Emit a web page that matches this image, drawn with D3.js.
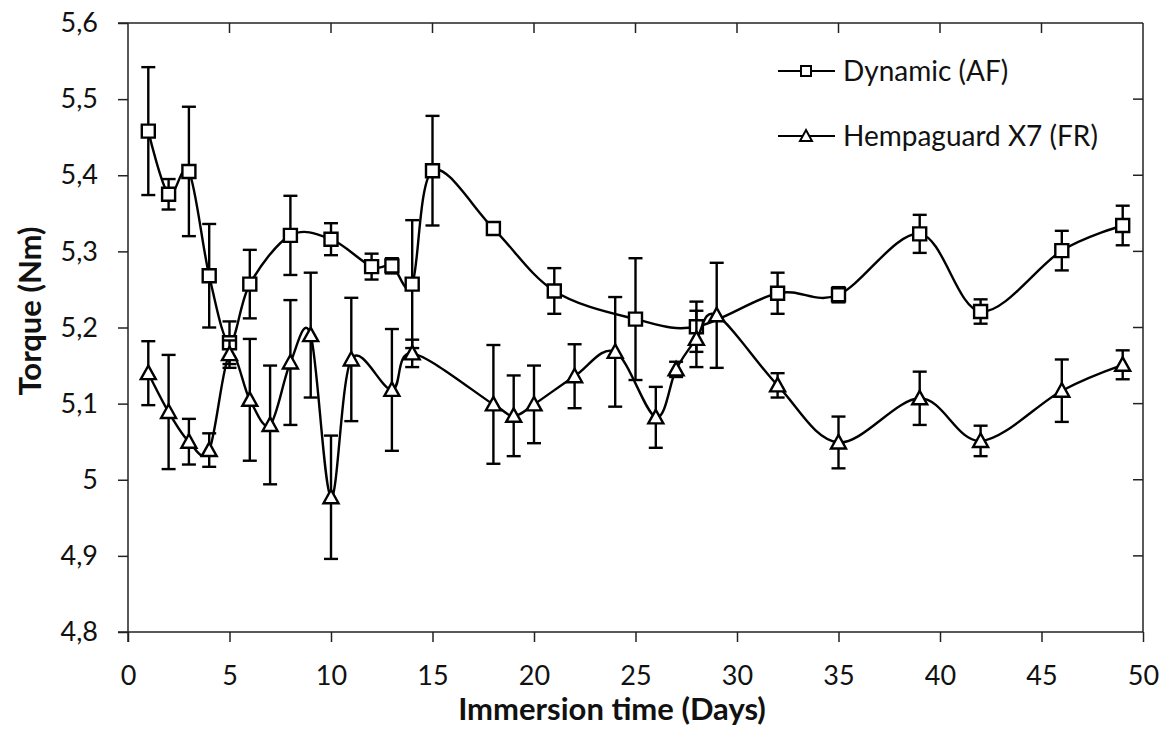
<!DOCTYPE html>
<html>
<head>
<meta charset="utf-8">
<script src="https://cdn.jsdelivr.net/npm/d3@7"></script>
<style>
  html, body { margin: 0; padding: 0; background: #fff; }
  svg { display: block; font-family: Lato, "Open Sans", sans-serif; }
</style>
</head>
<body>
<svg id="chart" width="1167" height="729"></svg>
<script>
// Torque vs immersion time, two antifouling coatings (mean ± error)
const daysAF   = [1, 2, 3, 4, 5, 6, 8, 10, 12, 13, 14, 15, 18, 21, 25, 28, 32, 35, 39, 42, 46, 49];
const torqueAF = [5.458, 5.375, 5.405, 5.268, 5.180, 5.257, 5.321, 5.316, 5.280, 5.281, 5.257, 5.406,
                  5.330, 5.248, 5.211, 5.201, 5.245, 5.243, 5.323, 5.221, 5.301, 5.334];
const errAF    = [0.084, 0.020, 0.085, 0.068, 0.028, 0.045, 0.052, 0.021, 0.017, 0.010, 0.084, 0.072,
                  0.005, 0.030, 0.080, 0.033, 0.027, 0.010, 0.025, 0.016, 0.026, 0.026];

const daysFR   = [1, 2, 3, 4, 5, 6, 7, 8, 9, 10, 11, 13, 14, 18, 19, 20, 22, 24, 26, 27, 28, 29, 32, 35, 39, 42, 46, 49];
const torqueFR = [5.140, 5.089, 5.050, 5.039, 5.165, 5.105, 5.072, 5.154, 5.190, 4.977, 5.158, 5.118, 5.166, 5.099,
                  5.084, 5.099, 5.136, 5.168, 5.082, 5.145, 5.185, 5.216, 5.124, 5.049, 5.107, 5.051, 5.117, 5.151];
const errFR    = [0.042, 0.075, 0.030, 0.022, 0.018, 0.080, 0.078, 0.082, 0.082, 0.081, 0.081, 0.080, 0.018, 0.078,
                  0.053, 0.051, 0.042, 0.072, 0.040, 0.010, 0.037, 0.069, 0.016, 0.034, 0.035, 0.020, 0.041, 0.019];

const seriesNames = ["Dynamic (AF)", "Hempaguard X7 (FR)"];
const xTicks = [0, 5, 10, 15, 20, 25, 30, 35, 40, 45, 50];
const yTicks = [4.8, 4.9, 5.0, 5.1, 5.2, 5.3, 5.4, 5.5, 5.6];
const yTickLabels = ["4,8", "4,9", "5", "5,1", "5,2", "5,3", "5,4", "5,5", "5,6"];
const xTitle = "Immersion time (Days)";
const yTitle = "Torque (Nm)";

const svg = d3.select("#chart");
const ink = "#000";

const x = d3.scaleLinear().domain([0, 50]).range([128, 1143]);
const y = d3.scaleLinear().domain([4.8, 5.6]).range([632, 23]);

// Plot frame with mirrored inner ticks on top and right
const frame = svg.append("g").attr("stroke", "#222").attr("stroke-width", 1.5).attr("fill", "none");
frame.append("line").attr("x1", x(0) - 10).attr("x2", x(50)).attr("y1", y(5.6)).attr("y2", y(5.6));
frame.append("line").attr("x1", x(50)).attr("x2", x(50)).attr("y1", y(5.6)).attr("y2", y(4.8));
frame.selectAll(".tt").data(xTicks.slice(1, -1)).join("line")
  .attr("x1", d => x(d)).attr("x2", d => x(d)).attr("y1", y(5.6)).attr("y2", y(5.6) + 10);
frame.selectAll(".rt").data(yTicks.slice(1, -1)).join("line")
  .attr("x1", x(50)).attr("x2", x(50) - 10).attr("y1", d => y(d)).attr("y2", d => y(d));

// Bottom axis
const xAxis = svg.append("g").attr("transform", `translate(0,${y(4.8)})`)
  .call(d3.axisBottom(x).tickValues(xTicks).tickFormat(d3.format("d")).tickSize(10).tickSizeOuter(0).tickPadding(24));
// Left axis
const yAxis = svg.append("g").attr("transform", `translate(${x(0)},0)`)
  .call(d3.axisLeft(y).tickValues(yTicks).tickFormat((d, i) => yTickLabels[i]).tickSize(10).tickSizeOuter(0).tickPadding(20));

[xAxis, yAxis].forEach(g => {
  g.select(".domain").attr("stroke", "#222").attr("stroke-width", 1.5);
  g.selectAll(".tick line").attr("stroke", "#222").attr("stroke-width", 1.5);
  g.selectAll(".tick text").attr("fill", "#111").style("font-size", "27px").style("font-family", "Lato, sans-serif");
});
// extend the axis lines across the tick overhang at the origin
xAxis.select(".domain").attr("d", `M${x(0) - 10},0H${x(50)}`);
yAxis.select(".domain").attr("d", `M0,${y(5.6)}V${y(4.8) + 10}`);

// Axis titles
svg.append("text").attr("x", 612).attr("y", 720).attr("text-anchor", "middle")
  .style("font-size", "31px").style("font-weight", "bold").attr("fill", "#111").text(xTitle);
svg.append("text").attr("transform", "translate(41,311) rotate(-90)").attr("text-anchor", "middle")
  .style("font-size", "31px").style("font-weight", "bold").attr("fill", "#111").text(yTitle);

const line = d3.line().curve(d3.curveCatmullRom.alpha(0)).x(d => x(d.day)).y(d => y(d.v));

function drawSeries(days, vals, errs, shape) {
  const data = days.map((d, i) => ({ day: d, v: vals[i], e: errs[i] }));
  const g = svg.append("g");
  g.append("path").datum(data).attr("d", line)
    .attr("fill", "none").attr("stroke", ink).attr("stroke-width", 2.4);
  const eb = g.append("g").attr("stroke", ink).attr("stroke-width", 2.4);
  eb.selectAll(".v").data(data).join("line")
    .attr("x1", d => x(d.day)).attr("x2", d => x(d.day))
    .attr("y1", d => y(d.v + d.e)).attr("y2", d => y(d.v - d.e));
  eb.selectAll(".t").data(data).join("line")
    .attr("x1", d => x(d.day) - 7).attr("x2", d => x(d.day) + 7)
    .attr("y1", d => y(d.v + d.e)).attr("y2", d => y(d.v + d.e));
  eb.selectAll(".b").data(data).join("line")
    .attr("x1", d => x(d.day) - 7).attr("x2", d => x(d.day) + 7)
    .attr("y1", d => y(d.v - d.e)).attr("y2", d => y(d.v - d.e));
  g.selectAll(".m").data(data).join("path")
    .attr("transform", d => `translate(${x(d.day)},${y(d.v)})`)
    .attr("d", shape).attr("fill", "#fff").attr("stroke", ink).attr("stroke-width", 2.4);
}

const squarePath = "M-6.5,-6.5H6.5V6.5H-6.5Z";
const trianglePath = "M0,-7.5L7.5,6L-7.5,6Z";
drawSeries(daysAF, torqueAF, errAF, squarePath);
drawSeries(daysFR, torqueFR, errFR, trianglePath);

// Legend
const legend = svg.append("g");
const legendShapes = ["M-5,-5H5V5H-5Z", "M0,-6L6,5L-6,5Z"];
seriesNames.forEach((name, i) => {
  const ly = 71 + i * 65;
  const row = legend.append("g").attr("transform", `translate(0,${ly})`);
  row.append("line").attr("x1", 778).attr("x2", 835).attr("y1", 0).attr("y2", 0)
    .attr("stroke", ink).attr("stroke-width", 2);
  row.append("path").attr("transform", "translate(806,0)").attr("d", legendShapes[i])
    .attr("fill", "#fff").attr("stroke", ink).attr("stroke-width", 2);
  row.append("text").attr("x", 843).attr("y", 0).attr("dy", "0.35em")
    .style("font-size", "28px").attr("fill", "#111").text(name);
});
</script>
</body>
</html>
